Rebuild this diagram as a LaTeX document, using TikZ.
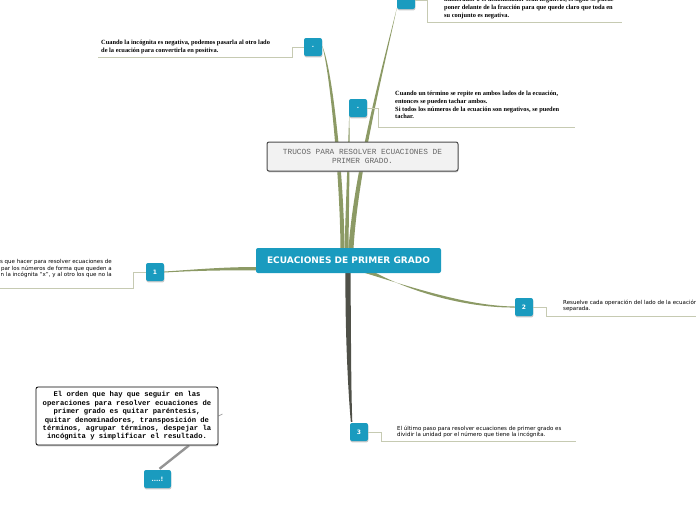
\documentclass[tikz,border=0pt]{standalone}
\usepackage{fontspec}
\setmainfont{Liberation Serif}
\setsansfont{DejaVu Sans}
\setmonofont{Liberation Mono}
\usepackage{xcolor}
\usepackage{tikz}
\usetikzlibrary{calc,positioning,shadows,backgrounds}

\definecolor{mapteal}{HTML}{1A9BBF}
\definecolor{mapolive}{HTML}{8C9A65}
\definecolor{mapdark}{HTML}{4F5048}
\definecolor{mapleader}{HTML}{C6CAB2}

\begin{document}
\begin{tikzpicture}[
  x=1pt, y=-1pt,
  % ---- boxes -------------------------------------------------------------
  mainbox/.style={
    fill=mapteal, rounded corners=2pt, text=white, inner sep=0pt,
    font=\sffamily\bfseries\fontsize{9}{10}\selectfont,
    minimum width=185pt, minimum height=25pt},
  keybox/.style={
    fill=mapteal, rounded corners=2pt, text=white, inner sep=0pt,
    font=\sffamily\bfseries\fontsize{6}{7}\selectfont,
    minimum width=18pt, minimum height=18pt,
    drop shadow={shadow xshift=0.4pt, shadow yshift=-1.4pt, fill=black!35, opacity=0.6}},
  floatbox/.style={
    draw=black!70, line width=1pt, fill=black!5, rounded corners=2pt,
    align=center, inner sep=0pt, text=black!60,
    font=\ttfamily\fontsize{7.8}{9}\selectfont,
    drop shadow={shadow xshift=0.4pt, shadow yshift=-1.4pt, fill=black!35, opacity=0.6}},
  notebox/.style={
    draw=black, line width=0.8pt, fill=white, rounded corners=2pt,
    align=center, inner sep=0pt,
    font=\ttfamily\bfseries\fontsize{7.2}{8.4}\selectfont,
    drop shadow={shadow xshift=0.4pt, shadow yshift=-1.4pt, fill=black!35, opacity=0.6}},
  % ---- texts -------------------------------------------------------------
  serifnote/.style={
    anchor=north west, align=left, inner sep=0pt,
    font=\rmfamily\bfseries\fontsize{6.4}{7.7}\selectfont},
  sansnote/.style={
    anchor=north west, align=left, inner sep=0pt,
    font=\sffamily\fontsize{5.5}{6.2}\selectfont},
  % ---- edges -------------------------------------------------------------
  leader/.style={draw=mapleader, line width=0.9pt},
  branch/.style={fill=mapolive},
  darkbranch/.style={fill=mapdark},
]

\useasboundingbox (0,0) rectangle (696,520);

% ---- centre and floating topics --------------------------------------------
\node[mainbox] (centre) at (348.5,260.5) {ECUACIONES DE PRIMER GRADO};

\node[floatbox, minimum width=191pt, minimum height=29pt] (trucos) at (362.5,156.5)
  {TRUCOS PARA RESOLVER ECUACIONES DE\\PRIMER GRADO.};

\node[notebox, minimum width=182pt, minimum height=58pt] (orden) at (127,416)
  {El orden que hay que seguir en las\\
   operaciones para resolver ecuaciones de\\
   primer grado es quitar paréntesis,\\
   quitar denominadores, transposición de\\
   términos, agrupar términos, despejar la\\
   incógnita y simplificar el resultado.};

% ---- branch keys -------------------------------------------------------------
\node[keybox] (nota)     at (406,0)   {.};
\node[keybox] (negativa) at (313,47)  {.};
\node[keybox] (tachar)   at (358,108) {.};
\node[keybox] (paso1)    at (155,272) {1};
\node[keybox] (paso2)    at (524,307) {2};
\node[keybox] (paso3)    at (359,432) {3};
\node[keybox, minimum width=27pt] (fin) at (157.5,479) {....!};

% ---- notes -------------------------------------------------------------------
\node[serifnote] (nota-txt) at (444,-3)
  {numerador o el denominador sean negativos, el signo se puede\\
   poner delante de la fracción para que quede claro que toda en\\
   su conjunto es negativa.};
\node[serifnote] (negativa-txt) at (101,40)
  {Cuando la incógnita es negativa, podemos pasarla al otro lado\\
   de la ecuación para convertirla en positiva.};
\node[serifnote] (tachar-txt) at (395,91)
  {Cuando un término se repite en ambos lados de la ecuación,\\
   entonces se pueden tachar ambos.\\
   Si todos los números de la ecuación son negativos, se pueden\\
   tachar.};
\node[sansnote, anchor=north east, align=right] (paso1-txt) at (112,259.5)
  {s que hacer para resolver ecuaciones de\\
   par los números de forma que queden a\\
   n la incógnita “x”, y al otro los que no la};
\node[sansnote] (paso2-txt) at (563,300)
  {Resuelve cada operación del lado de la ecuación\\
   separada.};
\node[sansnote] (paso3-txt) at (397,425.5)
  {El último paso para resolver ecuaciones de primer grado es\\
   dividir la unidad por el número que tiene la incógnita.};

% ---- leaders (key -> underline) ----------------------------------------------
\coordinate (nota-end)     at (622,22);
\coordinate (negativa-end) at (98,57);
\coordinate (tachar-end)   at (575,127);
\coordinate (paso1-end)    at (-2,288);
\coordinate (paso2-end)    at (698,316);
\coordinate (paso3-end)    at (576,441);

\draw[leader] (nota.east)     -- ++(12,0)  |- (nota-end);
\draw[leader] (negativa.west) -- ++(-11,0) |- (negativa-end);
\draw[leader] (tachar.east)   -- ++(11,0)  |- (tachar-end);
\draw[leader] (paso1.west)    -- ++(-12,0) |- (paso1-end);
\draw[leader] (paso2.east)    -- ++(13,0)  |- (paso2-end);
\draw[leader] (paso3.east)    -- ++(13,0)  |- (paso3-end);

% ---- tapered branches (behind the boxes) --------------------------------------
\begin{scope}[on background layer]
  % centre -> top note
  \fill[branch] ($(centre.north)+(0,1)$) .. controls (354,170) and (384,60) .. ($(nota.south west)+(0,-1)$)
    .. controls (386,60) and (358,170) .. ($(centre.north)+(5,1)$) -- cycle;
  % centre -> negativa
  \fill[branch] ($(centre.north)+(-8,1)$) .. controls (340,180) and (330,72) .. ($(negativa.east)+(0,-1)$)
    .. controls (333,70) and (344,180) .. ($(centre.north)+(-4,1)$) -- cycle;
  % centre -> tachar
  \fill[branch] ($(centre.north)+(-4,1)$) .. controls (346,200) and (348,150) .. ($(tachar.south west)+(0.5,-5)$)
    .. controls (350,150) and (349,200) .. ($(centre.north)+(0,1)$) -- cycle;
  % centre -> 1
  \fill[branch] ($(centre.west)+(1,6.5)$) .. controls (220,267) and (190,270) .. ($(paso1.east)+(0,-0.5)$)
    -- ($(paso1.east)+(0,0.5)$) .. controls (190,271) and (220,270) .. ($(centre.west)+(1,10)$) -- cycle;
  % centre -> 2
  \fill[branch] ($(centre.south)+(14,-1)$) .. controls (420,290) and (470,306) .. ($(paso2.west)+(0,-0.5)$)
    -- ($(paso2.west)+(0,0.5)$) .. controls (470,308) and (415,294) .. ($(centre.south)+(26,-1)$) -- cycle;
  % centre -> 3
  \fill[darkbranch] ($(centre.south)+(-3,-1)$) .. controls (345,330) and (348,390) .. ($(paso3.north west)+(1,-1)$)
    -- ($(paso3.north west)+(2.5,-1)$) .. controls (351,390) and (351,330) .. ($(centre.south)+(2,-1)$) -- cycle;
  % orden -> fin
  \draw[draw=black!42, line width=2.4pt] ($(orden.south)+(62,0)$) -- ($(fin.north)+(2,-1)$);
  \draw[draw=black!35, line width=0.8pt] (orden.east) -- ++(4,-2);
\end{scope}

\end{tikzpicture}
\end{document}
